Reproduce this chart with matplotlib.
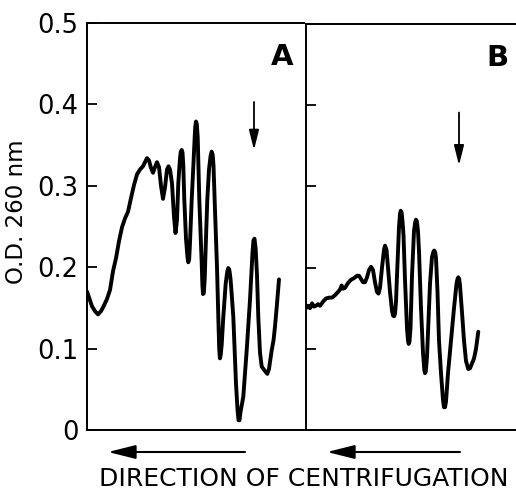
import matplotlib
matplotlib.use("Agg")
import matplotlib.pyplot as plt
from matplotlib.patches import FancyArrowPatch

# ---- data (distance along gradient, arbitrary units; O.D. 260 nm) ----
xa = [0, 2, 5, 8, 11, 14, 17, 20, 23, 26,
      29, 32, 35, 38, 41, 44, 47, 50, 53, 56,
      58, 60, 62, 64, 66, 68, 70, 72, 74, 76,
      78, 80, 81.5, 83, 85, 87, 88.5, 90, 91.3, 93,
      93.8, 94.7, 95.5, 96.3, 97.3, 99, 100.5, 101.3, 102.2, 103,
      104.7, 106.3, 107.5, 108.2, 109, 109.8, 110.7, 112.3, 114.7, 115.4,
      116, 116.8, 117.7, 118.7, 120.3, 122, 123.5, 124.7, 125.7, 126.5,
      128, 130, 131.5, 132.2, 132.9, 133.7, 134.7, 136.3, 138.7, 140.3,
      141.3, 142.3, 143.5, 144.5, 146.3, 149, 150.5, 151.5, 152.5, 153.5,
      156.3, 159.7, 163, 165.5, 166.5, 167.5, 168.7, 170, 171.3, 173,
      174.7, 177, 180.3, 182, 184.7, 186.5, 188, 190, 192]
ya = [0.170, 0.163, 0.152, 0.146, 0.142, 0.146, 0.153, 0.161, 0.172, 0.195,
      0.211, 0.232, 0.249, 0.260, 0.268, 0.285, 0.301, 0.314, 0.320, 0.324,
      0.329, 0.334, 0.331, 0.322, 0.316, 0.323, 0.329, 0.323, 0.300, 0.284,
      0.298, 0.320, 0.324, 0.320, 0.303, 0.262, 0.242, 0.258, 0.303, 0.334,
      0.342, 0.344, 0.341, 0.325, 0.283, 0.235, 0.212, 0.206, 0.210, 0.230,
      0.283, 0.323, 0.355, 0.372, 0.379, 0.376, 0.360, 0.283, 0.205, 0.178,
      0.167, 0.168, 0.185, 0.225, 0.283, 0.320, 0.336, 0.342, 0.338, 0.325,
      0.270, 0.200, 0.130, 0.100, 0.088, 0.092, 0.105, 0.139, 0.180, 0.195,
      0.199, 0.197, 0.186, 0.170, 0.139, 0.057, 0.025, 0.012, 0.012, 0.022,
      0.041, 0.098, 0.160, 0.218, 0.233, 0.235, 0.222, 0.190, 0.139, 0.095,
      0.078, 0.074, 0.069, 0.075, 0.098, 0.110, 0.127, 0.155, 0.185]

xb = [0, 2, 4, 6, 8, 10, 12, 14, 17, 20,
      23, 26, 29, 32, 34, 35.7, 37, 39, 42, 45,
      48, 51, 53, 55, 57, 59, 61, 63, 65, 67,
      69, 71, 72.5, 74, 76, 78, 79, 80.5, 82, 84,
      86, 87, 88, 89, 90, 91, 93, 94, 94.7, 95.6,
      96.5, 97.5, 99, 101, 102, 102.7, 103.5, 104.5, 106, 108,
      109.2, 110, 110.9, 112, 113, 115, 117, 118.3, 119, 119.8,
      121, 122, 124, 126, 127.5, 128.3, 129.2, 130, 131.5, 133,
      135, 137, 138, 139, 140, 142, 145, 148, 150.5, 151.5,
      152.3, 153.2, 154, 156, 158, 160, 162.3, 164, 166, 168,
      170, 172.3]
yb = [0.150, 0.153, 0.150, 0.156, 0.152, 0.153, 0.155, 0.153, 0.158, 0.162,
      0.163, 0.163, 0.166, 0.170, 0.173, 0.178, 0.174, 0.175, 0.181, 0.185,
      0.187, 0.190, 0.190, 0.186, 0.182, 0.182, 0.188, 0.197, 0.201, 0.197,
      0.182, 0.170, 0.168, 0.175, 0.200, 0.222, 0.227, 0.222, 0.200, 0.170,
      0.147, 0.141, 0.140, 0.143, 0.158, 0.190, 0.250, 0.266, 0.270, 0.268,
      0.257, 0.240, 0.185, 0.125, 0.110, 0.106, 0.109, 0.125, 0.190, 0.245,
      0.256, 0.259, 0.257, 0.245, 0.220, 0.150, 0.095, 0.074, 0.070, 0.072,
      0.090, 0.120, 0.180, 0.213, 0.220, 0.221, 0.219, 0.212, 0.170, 0.110,
      0.070, 0.037, 0.028, 0.028, 0.035, 0.070, 0.110, 0.150, 0.180, 0.186,
      0.188, 0.186, 0.178, 0.145, 0.110, 0.085, 0.075, 0.076, 0.082, 0.088,
      0.100, 0.121]

yticks = [0, 0.1, 0.2, 0.3, 0.4, 0.5]
ytick_labels = ["0", "0.1", "0.2", "0.3", "0.4", "0.5"]
panel_labels = ["A", "B"]
xlabel = "DIRECTION OF CENTRIFUGATION"
ylabel = "O.D. 260 nm"
marker_x = [167, 153]            # position of the down-arrow in A and B
marker_y0 = [0.403, 0.391]
marker_y1 = [0.344, 0.326]

W, H = 516, 490
fig = plt.figure(figsize=(W / 100, H / 100), dpi=100)


def rect(x0, x1, ytop, ybot):
    return [x0 / W, (H - ybot) / H, (x1 - x0) / W, (ybot - ytop) / H]


axA = fig.add_axes(rect(87, 304, 23, 430))
axB = fig.add_axes(rect(306, 520, 24, 430))

lw_line = 2.8
for ax, xmax in ((axA, 217), (axB, 214)):
    ax.set_xlim(0, xmax)
    ax.set_ylim(0, 0.5)
    ax.spines["right"].set_visible(False)
    for s in ("left", "top", "bottom"):
        ax.spines[s].set_linewidth(1.4)
    ax.set_xticks([])
    ax.set_yticks(yticks)
    ax.tick_params(axis="y", direction="in", length=7, width=1.3, pad=6,
                   labelsize=18.5)

axA.set_yticklabels(ytick_labels)
axB.tick_params(axis="y", labelleft=False)

axA.plot(xa, ya, color="black", lw=lw_line, solid_joinstyle="round",
         solid_capstyle="round")
axB.plot(xb, yb, color="black", lw=lw_line, solid_joinstyle="round",
         solid_capstyle="round")

axA.text(195, 0.458, panel_labels[0], fontsize=21, fontweight="bold",
         ha="center", va="center")
axB.text(191, 0.458, panel_labels[1], fontsize=21, fontweight="bold",
         ha="center", va="center")

for ax, x, y0, y1 in zip((axA, axB), marker_x, marker_y0, marker_y1):
    ax.annotate("", xy=(x, y1), xytext=(x, y0),
                arrowprops=dict(arrowstyle="-|>,head_length=1.2,head_width=0.3",
                                color="black", lw=1.3, shrinkA=0, shrinkB=0))

axA.set_ylabel(ylabel, fontsize=16.5)
axA.yaxis.set_label_coords(-0.272, 0.536)

for x0, x1 in ((245, 108), (460, 327)):
    fig.add_artist(FancyArrowPatch(
        (x0 / W, (H - 452) / H), (x1 / W, (H - 452) / H),
        transform=fig.transFigure,
        arrowstyle="-|>,head_length=1.4,head_width=0.35", color="black",
        lw=1.5, mutation_scale=12, shrinkA=0, shrinkB=0))

fig.text(303.5 / W, (H - 479) / H, xlabel, fontsize=18, ha="center", va="center")

fig.savefig("out.png", dpi=100, facecolor="white")
